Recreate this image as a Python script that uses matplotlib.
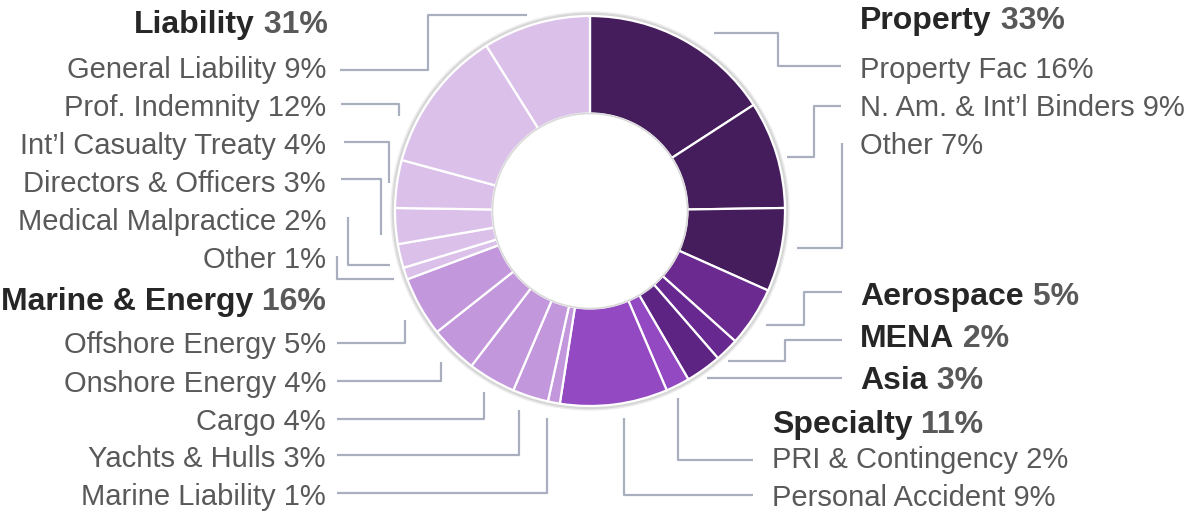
import matplotlib.pyplot as plt
from matplotlib.patches import Circle

plt.rcParams['font.family'] = ['Liberation Sans', 'DejaVu Sans']

W, H = 1188, 512

# slices, clockwise from 12 o'clock
segments = ["Property Fac", "N. Am. & Int\u2019l Binders", "Other", "Aerospace", "MENA", "Asia",
            "PRI & Contingency", "Personal Accident",
            "Marine Liability", "Yachts & Hulls", "Cargo", "Onshore Energy", "Offshore Energy",
            "Other", "Medical Malpractice", "Directors & Officers", "Int\u2019l Casualty Treaty",
            "Prof. Indemnity", "General Liability"]
shares = [16, 9, 7, 5, 2, 3, 2, 9, 1, 3, 4, 4, 5, 1, 2, 3, 4, 12, 9]
group_of = ["Property"] * 3 + ["Aerospace", "MENA", "Asia"] + ["Specialty"] * 2 + \
           ["Marine & Energy"] * 5 + ["Liability"] * 6

groups = ["Property", "Liability", "Marine & Energy", "Specialty", "Aerospace", "MENA", "Asia"]
group_pct = [33, 31, 16, 11, 5, 2, 3]

group_colors = {"Property": "#451d5d", "Aerospace": "#6a2a8f", "MENA": "#672890",
                "Asia": "#5d2484", "Specialty": "#9249c2", "Marine & Energy": "#c397dc",
                "Liability": "#dbc1ea"}

# layout (pixels): text anchor for each slice label and its leader path
label_pos = {
    0: (860, 78, 'left'), 1: (860, 116, 'left'), 2: (860, 154, 'left'),
    6: (772, 468, 'left'), 7: (772, 506, 'left'),
    8: (326, 505, 'right'), 9: (326, 467, 'right'), 10: (326, 430, 'right'),
    11: (326, 392, 'right'), 12: (326, 353, 'right'),
    13: (326, 268, 'right'), 14: (326, 230, 'right'), 15: (326, 192, 'right'),
    16: (326, 154, 'right'), 17: (326, 116, 'right'), 18: (326, 78, 'right'),
}
heading_pos = {"Property": (860, 29, 'left'), "Liability": (328, 33, 'right'),
               "Marine & Energy": (326, 310, 'right'), "Specialty": (772, 433, 'left'),
               "Aerospace": (860, 305, 'left'), "MENA": (860, 347, 'left'),
               "Asia": (860, 389, 'left')}
leaders = [
    [(714, 33), (778, 33), (778, 66), (841, 66)],
    [(787, 157), (814, 157), (814, 106), (841, 106)],
    [(797, 248), (842, 248), (842, 143)],
    [(766, 325), (804, 325), (804, 292), (842, 292)],
    [(728, 361), (785, 361), (785, 340), (842, 340)],
    [(707, 378), (842, 378)],
    [(678, 398), (678, 460), (753, 460)],
    [(624, 418), (624, 495), (753, 495)],
    [(547, 418), (547, 493), (337, 493)],
    [(519, 410), (519, 455), (337, 455)],
    [(484, 392), (484, 419), (337, 419)],
    [(441, 362), (441, 381), (337, 381)],
    [(405, 320), (405, 343), (337, 343)],
    [(394, 279), (337, 279), (337, 256)],
    [(390, 265), (348, 265), (348, 217)],
    [(381, 235), (381, 179), (341, 179)],
    [(389, 183), (389, 142), (344, 142)],
    [(399, 116), (399, 104), (341, 104)],
    [(527, 15), (428, 15), (428, 70), (340, 70)],
]

cx, cy, R = 590, 211, 195

fig = plt.figure(figsize=(W / 100, H / 100), dpi=100)
ax = fig.add_axes([0, 0, 1, 1])

# soft shadow around the ring
for r, c in [(199, '#ececec'), (197.5, '#d6d6d6')]:
    ax.add_patch(Circle((cx, cy), r, color=c, zorder=0))

ax.pie(shares, colors=[group_colors[g] for g in group_of], radius=R, center=(cx, cy),
       startangle=-90, counterclock=True,
       wedgeprops=dict(width=R * 0.5, edgecolor='white', linewidth=1.6))
ax.add_patch(Circle((cx, cy), R * 0.5, facecolor='white', edgecolor='#d9d9d9',
                    linewidth=1.2, zorder=3))

ax.set_xlim(0, W)
ax.set_ylim(H, 0)
ax.set_aspect('auto')
ax.axis('off')

line_col = '#a9afbe'
for path in leaders:
    xs, ys = zip(*path)
    ax.plot(xs, ys, color=line_col, lw=1.6, solid_capstyle='butt', zorder=4)

fs = 21
fsb = 23
for i, (x, y, ha) in label_pos.items():
    ax.text(x, y, f"{segments[i]} {shares[i]}%", fontsize=fs, color='#595959',
            ha=ha, va='baseline')

for g, p in zip(groups, group_pct):
    x, y, ha = heading_pos[g]
    if ha == 'left':
        t = ax.text(x, y, g, fontsize=fsb, fontweight='bold', color='#262626',
                    ha='left', va='baseline')
        ax.annotate(f" {p}%", xy=(1, 0), xycoords=t, fontsize=fsb, fontweight='bold',
                    color='#595959', ha='left', va='bottom')
    else:
        t = ax.text(x, y, f" {p}%", fontsize=fsb, fontweight='bold', color='#595959',
                    ha='right', va='baseline')
        ax.annotate(g, xy=(0, 0), xycoords=t, fontsize=fsb, fontweight='bold',
                    color='#262626', ha='right', va='bottom')

fig.savefig('out.png', dpi=100, facecolor='white')
